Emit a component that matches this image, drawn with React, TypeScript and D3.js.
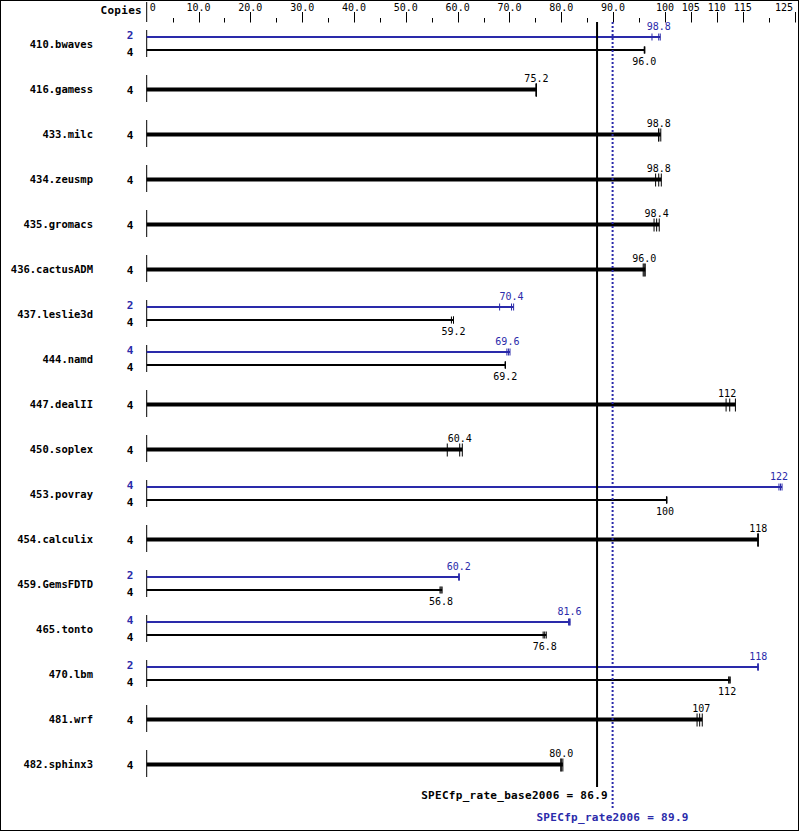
import React from "react";
import * as d3 from "d3";

const benchmarks = ["410.bwaves","416.gamess","433.milc","434.zeusmp","435.gromacs","436.cactusADM","437.leslie3d","444.namd","447.dealII","450.soplex","453.povray","454.calculix","459.GemsFDTD","465.tonto","470.lbm","481.wrf","482.sphinx3"];
const baseCopies = [4,4,4,4,4,4,4,4,4,4,4,4,4,4,4,4,4];
const peakCopies: (number|null)[] = [2,null,null,null,null,null,2,4,null,null,4,null,2,4,2,null,null];
const baseRatio = [96.0,75.2,98.8,98.8,98.4,96.0,59.2,69.2,112,60.4,100,118,56.8,76.8,112,107,80.0];
const peakRatio: (number|null)[] = [98.8,null,null,null,null,null,70.4,69.6,null,null,122,null,60.2,81.6,118,null,null];
const baseRuns = [
  [96.0,96.1,96.1],[75.1,75.2,75.2],[98.8,98.8,99.2],[98.2,98.8,99.3],[97.9,98.4,98.9],
  [95.8,96.0,96.2],[58.8,59.2,59.2],[69.2,69.2,69.2],[111.8,112.5,113.6],[58.0,60.4,60.9],
  [100.3,100.3,100.4],[117.9,118.0,118.0],[56.6,56.8,57.0],[76.5,76.8,77.1],[112.3,112.4,112.6],
  [106.2,106.7,107.2],[79.9,80.0,80.3]
];
const peakRuns: (number[]|null)[] = [
  [97.5,98.8,99.1],null,null,null,null,null,[68.1,70.4,70.8],[69.5,69.8,70.1],null,null,
  [122.0,122.3,122.6],null,[60.2,60.3,60.3],[81.4,81.6,81.7],[117.9,118.0,118.0],null,null
];
const tickValues = [0,5,10,15,20,25,30,35,40,45,50,55,60,65,70,75,80,85,90,95,100,105,110,115,120,125];
const tickLabels: Record<number,string> = {0:"0",10:"10.0",20:"20.0",30:"30.0",40:"40.0",50:"50.0",60:"60.0",70:"70.0",80:"80.0",90:"90.0",100:"100",105:"105",110:"110",115:"115",125:"125"};
const baseMean = 86.9;
const peakMean = 89.9;

const W = 799, H = 831;
const BLUE = "#2a2aaa";
const MONO = "'DejaVu Sans Mono', 'Liberation Mono', monospace";
const LS = 0.3;

export default function App() {
  const x = d3.scaleLinear().domain([0, 125]).range([146.7, 794.5]);
  const y0 = 43.5, step = 45;
  const cy = (i: number) => y0 + i * step;
  const x0 = x(0);
  const fmt = (v: number) => (v >= 100 ? v.toFixed(0) : v.toFixed(1));

  const rows: React.ReactNode[] = [];
  benchmarks.forEach((b, i) => {
    const c = cy(i);
    const hasPeak = peakRatio[i] != null;
    rows.push(
      <text key={"n"+i} x={93} y={c + 4} textAnchor="end" fontFamily={MONO} fontWeight="bold" fontSize={10.5}>{b}</text>
    );
    rows.push(<line key={"ax"+i} x1={x0} x2={x0} y1={c - 13.5} y2={c + 13.5} stroke="#000" strokeWidth={1} />);
    if (hasPeak) {
      const yb = c - 6.5, yk = c + 6.5;
      const pr = peakRuns[i]!;
      const br = baseRuns[i];
      rows.push(<text key={"pc"+i} x={130} y={yb + 2} textAnchor="middle" fontFamily={MONO} fontWeight="bold" fontSize={11} fill={BLUE}>{peakCopies[i]}</text>);
      rows.push(<text key={"bc"+i} x={130} y={yk + 6} textAnchor="middle" fontFamily={MONO} fontWeight="bold" fontSize={11} fill="#000">{baseCopies[i]}</text>);
      rows.push(<line key={"pb"+i} x1={x0} x2={x(d3.max(pr)!)} y1={yb} y2={yb} stroke={BLUE} strokeWidth={2} />);
      rows.push(<line key={"bb"+i} x1={x0} x2={x(d3.max(br)!)} y1={yk} y2={yk} stroke="#000" strokeWidth={2} />);
      pr.forEach((r, k) => rows.push(<line key={"pt"+i+"_"+k} x1={x(r)} x2={x(r)} y1={yb - 3.5} y2={yb + 3.5} stroke={BLUE} strokeWidth={1} />));
      br.forEach((r, k) => rows.push(<line key={"bt"+i+"_"+k} x1={x(r)} x2={x(r)} y1={yk - 3.5} y2={yk + 3.5} stroke="#000" strokeWidth={1} />));
      const pv = peakRatio[i]!;
      rows.push(<text key={"pl"+i} x={x(pv)} y={yb - 7} textAnchor="middle" fontFamily={MONO} fontSize={10} fill={BLUE}>{fmt(pv)}</text>);
      const bv = baseRatio[i];
      rows.push(<text key={"bl"+i} x={x(bv)} y={yk + 15} textAnchor="middle" fontFamily={MONO} fontSize={10} fill="#000">{fmt(bv)}</text>);
    } else {
      const yk = c + 1;
      const br = baseRuns[i];
      rows.push(<text key={"bc"+i} x={130} y={yk + 4} textAnchor="middle" fontFamily={MONO} fontWeight="bold" fontSize={11} fill="#000">{baseCopies[i]}</text>);
      rows.push(<line key={"bb"+i} x1={x0} x2={x(d3.max(br)!)} y1={yk} y2={yk} stroke="#000" strokeWidth={4} />);
      br.forEach((r, k) => rows.push(<line key={"bt"+i+"_"+k} x1={x(r)} x2={x(r)} y1={yk - 6} y2={yk + 7} stroke="#000" strokeWidth={1} />));
      const bv = baseRatio[i];
      rows.push(<text key={"bl"+i} x={x(bv)} y={yk - 8} textAnchor="middle" fontFamily={MONO} fontSize={10} fill="#000">{fmt(bv)}</text>);
    }
  });

  return (
    <svg width={W} height={H} style={{ position: "absolute", left: 0, top: 0, background: "#fff" }}>
      <rect x={0.5} y={0.5} width={W - 1} height={H - 1} fill="#fff" stroke="#000" strokeWidth={1} />
      <text x={142} y={14} textAnchor="end" fontFamily={MONO} fontWeight="bold" fontSize={11} letterSpacing={LS}>Copies</text>
      <line x1={x0} x2={x0} y1={2} y2={22} stroke="#000" strokeWidth={1} />
      {tickValues.map((t) => {
        const major = tickLabels[t] !== undefined;
        const anchor = t === 0 ? "start" : t === 125 ? "end" : "middle";
        const tx = t === 0 ? x(t) + 3 : t === 125 ? x(t) - 1.5 : x(t);
        return (
          <g key={"t"+t}>
            {t !== 0 && <line x1={Math.round(x(t)) + 0.5} x2={Math.round(x(t)) + 0.5} y1={major ? 12 : 18} y2={22.5} stroke="#000" strokeWidth={1} />}
            {major && (
              <text x={tx} y={11} textAnchor={anchor} fontFamily={MONO} fontSize={10}>{tickLabels[t]}</text>
            )}
          </g>
        );
      })}
      {rows}
      <line x1={x(baseMean)} x2={x(baseMean)} y1={22} y2={787} stroke="#000" strokeWidth={2} />
      <line x1={x(peakMean)} x2={x(peakMean)} y1={22} y2={808} stroke={BLUE} strokeWidth={2} strokeDasharray="2,2" />
      <text x={x(baseMean) + 11} y={799} textAnchor="end" fontFamily={MONO} fontWeight="bold" fontSize={11} letterSpacing={LS}>{`SPECfp_rate_base2006 = ${baseMean.toFixed(1)}`}</text>
      <text x={x(peakMean)} y={821} textAnchor="middle" fontFamily={MONO} fontWeight="bold" fontSize={11} letterSpacing={LS} fill={BLUE}>{`SPECfp_rate2006 = ${peakMean.toFixed(1)}`}</text>
    </svg>
  );
}
